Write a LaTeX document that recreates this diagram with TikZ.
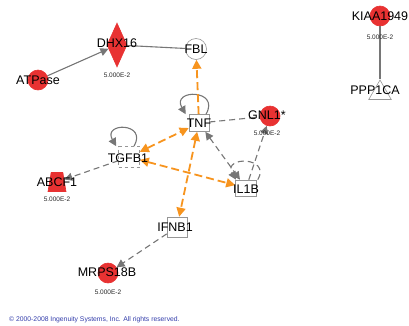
\documentclass[tikz,border=0pt]{standalone}
\usepackage{fontspec}
\setmainfont{Liberation Sans}
\usetikzlibrary{positioning,shapes.geometric,arrows.meta}
\definecolor{ipared}{RGB}{232,50,50}
\definecolor{ipaorange}{RGB}{247,148,30}
\definecolor{edgegray}{RGB}{118,118,118}
\definecolor{boxgray}{RGB}{150,150,150}
\definecolor{copyblue}{RGB}{50,60,170}

\tikzset{
  mol/.style={draw=boxgray, line width=0.6pt, inner sep=0pt, fill=white},
  redmol/.style={mol, draw=ipared, fill=ipared},
  lbl/.style={font=\fontsize{12.5}{13}\selectfont, inner sep=0pt},
  val/.style={font=\fontsize{6.5}{7}\selectfont, text=black!85, inner sep=0pt},
  rel/.style={draw=edgegray, line width=1.1pt},
  reldash/.style={rel, dash pattern=on 6pt off 4pt},
  act/.style={draw=ipaorange, line width=1.8pt, dash pattern=on 8pt off 4pt},
  tip/.style={-{Triangle[length=8pt,width=8pt]}},
  tips/.style={{Triangle[length=8pt,width=8pt]}-{Triangle[length=8pt,width=8pt]}},
  otip/.style={-{Triangle[length=9pt,width=9pt]}},
  otips/.style={{Triangle[length=9pt,width=9pt]}-{Triangle[length=9pt,width=9pt]}}
}

\begin{document}
\begin{tikzpicture}[x=1pt,y=-1pt]
  \useasboundingbox (0,0) rectangle (409,325);

  % molecules
  \node[redmol, circle, minimum size=20pt] (atp) at (38,80) {};
  \node[redmol, diamond, minimum width=20pt, minimum height=44pt] (dhx) at (117,45) {};
  \node[mol, circle, minimum size=21pt] (fbl) at (196,49) {};
  \node[mol, minimum width=20pt, minimum height=17pt] (tnf) at (199,123) {};
  \node[redmol, circle, minimum size=20pt] (gnl) at (270,116) {};
  \node[mol, minimum width=21pt, minimum height=16pt] (il1b) at (246,188) {};
  \node[mol, dashed, minimum width=21pt, minimum height=21pt] (tgfb) at (129,157) {};
  \node[redmol, trapezium, trapezium angle=75, trapezium stretches=true, inner sep=1pt,
        minimum width=18pt, minimum height=19pt] (abcf) at (57,182) {};
  \node[mol, minimum size=20pt] (ifnb) at (177,227) {};
  \node[redmol, circle, minimum size=20pt] (mrps) at (108,273) {};
  \node[redmol, circle, minimum size=20pt] (kiaa) at (380,16) {};
  \node[mol, regular polygon, regular polygon sides=3, minimum size=26pt] (ppp) at (380,93) {};

  % relations
  \draw[rel, tip] (atp) -- (dhx);
  \draw[rel] (dhx) -- (fbl);
  \draw[rel] (kiaa) -- (ppp.corner 1);
  \draw[reldash] (tnf) -- (gnl);
  \draw[reldash, tip] (il1b) -- (gnl);
  \draw[reldash, tips] (tnf) -- (il1b);
  \draw[reldash, tip] (tgfb) -- (abcf);
  \draw[reldash, tip] (ifnb) -- (mrps);
  \draw[rel, tip] ([xshift=7pt]tnf.north) to[out=60, in=120, looseness=3.7] ([xshift=-3pt]tnf.north west);
  \draw[rel, tip] ([xshift=5pt]tgfb.north) to[out=60, in=120, looseness=4] ([xshift=-2pt]tgfb.north west);
  \draw[reldash, tip] ([xshift=1pt]il1b.north east) to[out=60, in=120, looseness=3.2] ([xshift=-10pt]il1b.north);
  \draw[act, otip] (tnf) -- (fbl);
  \draw[act, otips] (tgfb) -- (tnf);
  \draw[act, otips] (tgfb) -- (il1b);
  \draw[act, otips] (tnf) -- (ifnb);

  % labels
  \node[lbl] (atp-l) at (38,80) {ATPase};
  \node[lbl] (dhx-l) at (117,43) {DHX16};
  \node[val] (dhx-v) at (117,75) {5.000E-2};
  \node[lbl] (fbl-l) at (196,49) {FBL};
  \node[lbl] (tnf-l) at (199,123) {TNF};
  \node[lbl] (gnl-l) at (267,115) {GNL1*};
  \node[val] (gnl-v) at (267,133) {5.000E-2};
  \node[lbl] (il1b-l) at (246,189) {IL1B};
  \node[lbl] (tgfb-l) at (128,158) {TGFB1};
  \node[lbl] (abcf-l) at (57,182) {ABCF1};
  \node[val] (abcf-v) at (57,199) {5.000E-2};
  \node[lbl] (ifnb-l) at (175,227) {IFNB1};
  \node[lbl] (mrps-l) at (107,272) {MRPS18B};
  \node[val] (mrps-v) at (108,292) {5.000E-2};
  \node[lbl] (kiaa-l) at (380,16) {KIAA1949};
  \node[val] (kiaa-v) at (380,37) {5.000E-2};
  \node[lbl] (ppp-l) at (375,90) {PPP1CA};

  \node[anchor=west, text=copyblue, font=\fontsize{6.8}{7}\selectfont, inner sep=0pt] (copy) at (9,320)
    {\textcopyright{} 2000-2008 Ingenuity Systems, Inc. All rights reserved.};
\end{tikzpicture}
\end{document}
